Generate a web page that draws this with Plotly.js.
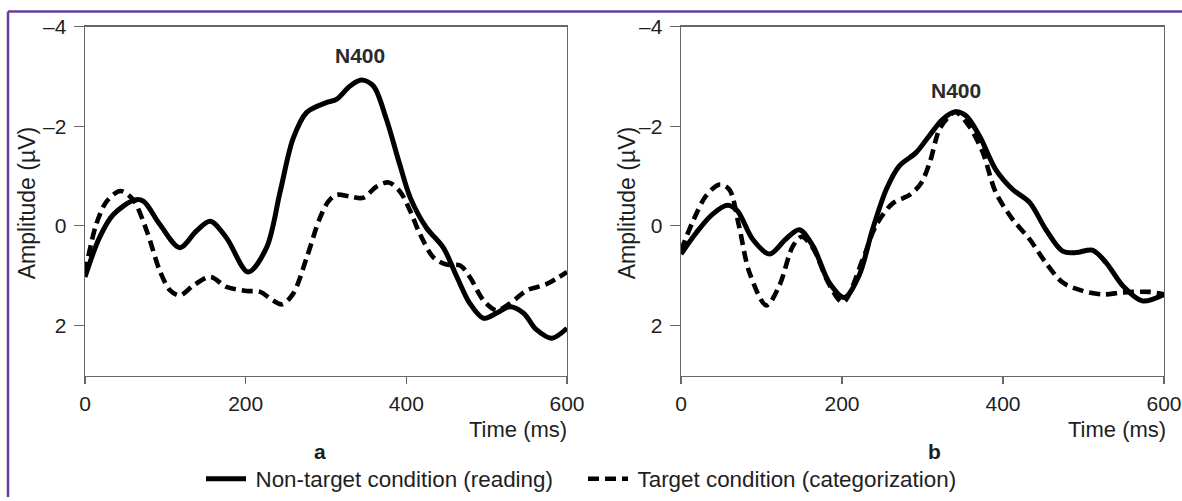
<!DOCTYPE html>
<html>
<head>
<meta charset="utf-8">
<script src="https://cdn.plot.ly/plotly-3.0.1.min.js"></script>
<style>
  html, body { margin: 0; padding: 0; background: #fff; }
  #chart { width: 1182px; height: 501px; }
</style>
</head>
<body>
<div id="chart"></div>
<script>
// ---- Data (time in ms, amplitude in µV; negative plotted upward) ----
const timeA_nonTarget = [0, 18, 35, 62, 73, 93, 118, 139, 156, 176, 203, 226, 243, 259, 276, 301, 313, 330, 344, 359, 375, 392, 405, 425, 446, 463, 479, 496, 512, 529, 546, 562, 581, 600];
const ampA_nonTarget  = [1.03, 0.24, -0.22, -0.52, -0.49, -0.03, 0.44, 0.10, -0.09, 0.24, 0.93, 0.44, -0.69, -1.75, -2.28, -2.48, -2.54, -2.81, -2.93, -2.81, -2.15, -1.22, -0.56, 0.04, 0.44, 1.03, 1.56, 1.86, 1.76, 1.63, 1.76, 2.09, 2.26, 2.06];

const timeA_target = [0, 14, 27, 44, 60, 77, 93, 106, 118, 135, 156, 176, 201, 218, 234, 245, 259, 276, 292, 303, 313, 330, 346, 363, 378, 392, 405, 417, 434, 450, 467, 479, 496, 512, 529, 550, 575, 600];
const ampA_target  = [0.95, -0.03, -0.49, -0.70, -0.52, 0.11, 0.90, 1.30, 1.40, 1.20, 1.03, 1.23, 1.31, 1.33, 1.50, 1.58, 1.37, 0.64, -0.14, -0.49, -0.62, -0.59, -0.56, -0.79, -0.87, -0.69, -0.29, 0.17, 0.64, 0.78, 0.80, 1.03, 1.50, 1.70, 1.56, 1.30, 1.17, 0.93];

const timeB_nonTarget = [0, 19, 39, 58, 70, 89, 110, 130, 147, 164, 184, 203, 221, 238, 255, 271, 292, 308, 325, 341, 354, 371, 391, 412, 433, 453, 474, 491, 511, 528, 549, 573, 600];
const ampB_nonTarget  = [0.57, 0.14, -0.23, -0.41, -0.30, 0.27, 0.57, 0.27, 0.08, 0.41, 1.14, 1.44, 1.01, 0.07, -0.73, -1.20, -1.47, -1.80, -2.14, -2.29, -2.21, -1.80, -1.13, -0.73, -0.47, 0.07, 0.51, 0.54, 0.49, 0.74, 1.21, 1.51, 1.38];

const timeB_target = [0, 14, 31, 48, 60, 72, 85, 106, 122, 139, 150, 164, 184, 201, 226, 242, 263, 284, 298, 309, 321, 333, 341, 358, 375, 391, 412, 433, 453, 474, 499, 524, 549, 582, 600];
const ampB_target  = [0.50, -0.06, -0.60, -0.83, -0.73, 0.00, 0.94, 1.60, 1.21, 0.41, 0.22, 0.45, 1.18, 1.54, 0.67, 0.00, -0.45, -0.62, -0.85, -1.27, -1.94, -2.20, -2.29, -2.00, -1.47, -0.67, -0.13, 0.27, 0.74, 1.14, 1.31, 1.38, 1.34, 1.33, 1.38];

const yTickVals = [-4, -2, 0, 2];
const yTickText = ['\u20134', '\u20132', '0', '2'];
const xTickVals = [0, 200, 400, 600];
const seriesNames = ['Non-target condition (reading)', 'Target condition (categorization)'];
const panelLabels = ['a', 'b'];

// ---- Styling ----
const FONT = '"Liberation Sans", Arial, Helvetica, sans-serif';
const TXT = '#1e1e1e';
const AX = '#666666';
const W = 1182, H = 501;
const px = v => v / W;
const py = v => 1 - v / H;

const solid = {color: '#000', width: 5, shape: 'spline', smoothing: 0.9};
const dashed = {color: '#000', width: 4.6, shape: 'spline', smoothing: 0.9, dash: '11px,6px'};

const traces = [
  {x: timeA_nonTarget, y: ampA_nonTarget, xaxis: 'x', yaxis: 'y', mode: 'lines', line: solid, name: '\u2009' + seriesNames[0], showlegend: true},
  {x: timeA_target, y: ampA_target, xaxis: 'x', yaxis: 'y', mode: 'lines', line: dashed, name: '\u2009' + seriesNames[1], showlegend: true},
  {x: timeB_nonTarget, y: ampB_nonTarget, xaxis: 'x2', yaxis: 'y2', mode: 'lines', line: solid, name: seriesNames[0], showlegend: false},
  {x: timeB_target, y: ampB_target, xaxis: 'x2', yaxis: 'y2', mode: 'lines', line: dashed, name: seriesNames[1], showlegend: false}
];

function xAxis(domain, anchor) {
  return {
    domain: domain, anchor: anchor, range: [0, 600],
    tickmode: 'array', tickvals: xTickVals,
    ticks: 'outside', ticklen: 7, tickwidth: 1.2, tickcolor: AX,
    showline: true, linecolor: AX, linewidth: 1.4, mirror: true,
    showgrid: false, zeroline: false,
    tickfont: {family: FONT, size: 21, color: TXT},
    ticklabelstandoff: 1
  };
}
function yAxis(domain, anchor, bottom) {
  return {
    domain: domain, anchor: anchor, range: [bottom, -4],
    tickmode: 'array', tickvals: yTickVals, ticktext: yTickText,
    ticks: 'outside', ticklen: 10, tickwidth: 1.2, tickcolor: AX,
    showline: true, linecolor: AX, linewidth: 1.4, mirror: true,
    showgrid: false, zeroline: false,
    tickfont: {family: FONT, size: 21, color: TXT},
    ticklabelstandoff: 3
  };
}

const yDom = [py(379), py(27)];

function note(x, y, text, size, extra) {
  return Object.assign({xref: 'paper', yref: 'paper', x: x, y: y, xanchor: 'center', yanchor: 'middle',
    text: text, showarrow: false, font: {family: FONT, size: size, color: TXT}}, extra || {});
}

const annotations = [
  {xref: 'x', yref: 'y', x: 342, y: -3.42, xanchor: 'center', yanchor: 'middle', text: '<b>N400</b>', showarrow: false, font: {family: FONT, size: 21, color: '#2a2a2a'}},
  {xref: 'x2', yref: 'y2', x: 341, y: -2.72, xanchor: 'center', yanchor: 'middle', text: '<b>N400</b>', showarrow: false, font: {family: FONT, size: 21, color: '#2a2a2a'}},
  note(px(569), py(433), 'Time (ms)', 22, {xanchor: 'right'}),
  note(px(1168), py(433), 'Time (ms)', 22, {xanchor: 'right'}),
  note(px(319.5), py(455), '<b>' + panelLabels[0] + '</b>', 21),
  note(px(935), py(455), '<b>' + panelLabels[1] + '</b>', 21),
  note(px(27), py(205), 'Amplitude (\u00b5V)', 23, {textangle: -90}),
  note(px(627), py(205), 'Amplitude (\u00b5V)', 23, {textangle: -90})
];

const shapes = [
  {type: 'line', xref: 'paper', yref: 'paper', x0: px(8), x1: 1, y0: py(11.5), y1: py(11.5), line: {color: '#6a3d9a', width: 2.5}},
  {type: 'line', xref: 'paper', yref: 'paper', x0: px(8), x1: px(8), y0: py(11.5), y1: 0, line: {color: '#6a3d9a', width: 2.5}}
];

const layout = {
  width: W, height: H,
  margin: {l: 0, r: 0, t: 0, b: 0},
  paper_bgcolor: '#fff', plot_bgcolor: '#fff',
  font: {family: FONT, color: TXT},
  xaxis: xAxis([px(85), px(567)], 'y'),
  yaxis: yAxis(yDom, 'x', 3.02),
  xaxis2: xAxis([px(681), px(1164)], 'y2'),
  yaxis2: yAxis(yDom, 'x2', 3.02),
  showlegend: true,
  legend: {
    orientation: 'h', x: px(583), xanchor: 'center', y: py(483), yanchor: 'middle',
    font: {family: FONT, size: 22.4, color: TXT},
    bgcolor: 'rgba(0,0,0,0)', itemwidth: 40, tracegroupgap: 0,
    entrywidth: 327, entrywidthmode: 'pixels'
  },
  annotations: annotations,
  shapes: shapes
};

Plotly.newPlot('chart', traces, layout, {staticPlot: true, displayModeBar: false});
</script>
</body>
</html>
